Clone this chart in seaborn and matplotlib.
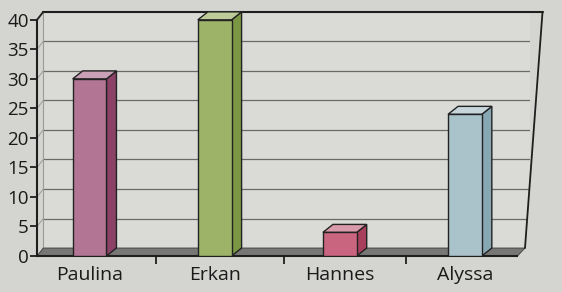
import numpy as np
import pandas as pd
import matplotlib
matplotlib.use("Agg")
import matplotlib.pyplot as plt
import seaborn as sns
from matplotlib.patches import Polygon

names = ["Paulina", "Erkan", "Hannes", "Alyssa"]
values = [30, 40, 4, 24]
y_ticks = [0, 5, 10, 15, 20, 25, 30, 35, 40]

front_colors = ["#b27594", "#9db368", "#c9657f", "#aac2ca"]
side_colors = ["#8c4266", "#7c9744", "#a8405d", "#87a7b3"]
top_colors = ["#c9a0b5", "#bccb98", "#d99aab", "#c7d6db"]

sns.set_theme(style="white")
plt.rcParams["font.family"] = ["Open Sans", "DejaVu Sans"]

bg = "#d4d4d0"
fig = plt.figure(figsize=(5.62, 2.92), dpi=100, facecolor=bg)
W, H = 562, 292
x0, x1 = 37, 530
y0, ytop = 256, 11
ax = fig.add_axes([x0 / W, (H - y0) / H, (x1 - x0) / W, (y0 - ytop) / H])
ax.set_facecolor("none")

df = pd.DataFrame({"name": names, "value": values})
sns.barplot(data=df, x="name", y="value", hue="name", palette=front_colors,
            width=0.27, edgecolor="#222222", linewidth=1.0, legend=False,
            ax=ax, zorder=5, saturation=1)

xl, xr = -0.42, 3.52
ax.set_xlim(xl, xr)
ax.set_ylim(0, 41.5)
dx, dy = 0.08, 1.35

wall_col = "#dadad6"
ax.add_patch(Polygon([(xl + 0.05, dy), (xr - 0.04, dy), (xr + 0.1, 40 + dy), (xl + 0.05, 40 + dy)],
                     closed=True, facecolor=wall_col, edgecolor="none", zorder=0))
for v in y_ticks[1:-1]:
    ax.plot([xl, xl + 0.05], [v, v + dy], color="#9a9a98", lw=0.7, zorder=1, clip_on=False)
    ax.plot([xl + 0.05, xr - 0.04 + 0.14 * v / 40], [v + dy, v + dy], color="#6a6a68", lw=0.9, zorder=1)
ax.plot([xl + 0.05, xr + 0.1], [40 + dy, 40 + dy], color="#1e1e1e", lw=1.5, zorder=2, clip_on=False)
ax.plot([xr + 0.1, xr - 0.04], [40 + dy, dy], color="#1e1e1e", lw=1.3, zorder=2, clip_on=False)
ax.plot([xl, xl + 0.05], [40, 40 + dy], color="#1e1e1e", lw=1.3, zorder=2, clip_on=False)
ax.plot([xl + 0.05, xl + 0.05], [dy, 40 + dy], color="#9a9a98", lw=0.8, zorder=1)
ax.add_patch(Polygon([(xl, 0), (xr - 0.1, 0), (xr - 0.04, dy), (xl + 0.05, dy)],
                     closed=True, facecolor="#777775", edgecolor="#3a3a3a", lw=0.6, zorder=1))

bars = [pp for pp in ax.patches if pp.get_zorder() == 5]
for p, sc, tc in zip(bars, side_colors, top_colors):
    bx, bw, bh = p.get_x(), p.get_width(), p.get_height()
    ax.add_patch(Polygon([(bx + bw, 0), (bx + bw + dx, dy), (bx + bw + dx, bh + dy), (bx + bw, bh)],
                         closed=True, facecolor=sc, edgecolor="#222222", lw=1.0, zorder=4))
    ax.add_patch(Polygon([(bx, bh), (bx + bw, bh), (bx + bw + dx, bh + dy), (bx + dx, bh + dy)],
                         closed=True, facecolor=tc, edgecolor="#222222", lw=1.0, zorder=4))

for s in ["top", "right"]:
    ax.spines[s].set_visible(False)
for s in ["left", "bottom"]:
    ax.spines[s].set_color("#1e1e1e")
    ax.spines[s].set_linewidth(1.5)
ax.spines["left"].set_bounds(0, 40)
ax.spines["bottom"].set_bounds(xl, xr - 0.1)

ax.set_yticks(y_ticks)
ax.set_yticklabels([str(v) for v in y_ticks])
ax.tick_params(axis="y", direction="out", length=5, width=1.3, color="#1e1e1e",
               labelsize=13.5, labelcolor="#1a1a1a", pad=1, left=True)
ax.set_xticks(range(len(names)))
ax.set_xticklabels(names)
ax.tick_params(axis="x", length=0, labelsize=14, labelcolor="#1a1a1a", pad=7)
ax.set_xticks([0.53, 1.55, 2.53], minor=True)
ax.tick_params(axis="x", which="minor", direction="out", length=6, width=1.3,
               color="#1e1e1e", bottom=True)
for lab in ax.get_xticklabels() + ax.get_yticklabels():
    lab.set_fontweight("medium")
ax.set_xlabel("")
ax.set_ylabel("")

fig.savefig("out.png", dpi=100, facecolor=bg)
